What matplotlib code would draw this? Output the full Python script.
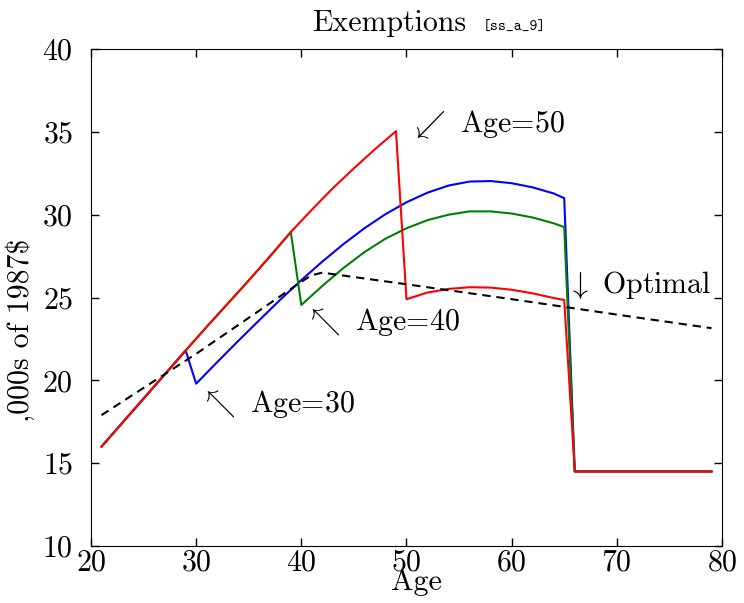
import numpy as np
import matplotlib
matplotlib.use("Agg")
import matplotlib.pyplot as plt

plt.rcParams['font.family'] = 'cmr10'
plt.rcParams['mathtext.fontset'] = 'cm'
plt.rcParams['axes.unicode_minus'] = False
plt.rcParams['axes.formatter.use_mathtext'] = True

# shared path before any drop (age, thousands of 1987$)
base_age = [21, 23, 25, 27, 29, 31, 33, 35, 37, 39, 41, 43, 45, 47, 49]
base_val = [16.0, 17.45, 18.9, 20.35, 21.8, 23.23, 24.63, 26.03, 27.47, 28.95,
            30.3, 31.6, 32.8, 33.95, 35.04]

# after the drop
blue_age = [30, 32, 34, 36, 38, 40, 42, 44, 46, 48, 50, 52, 54, 56, 58, 60, 62, 64, 65, 66, 79]
blue_val = [19.8, 21.1, 22.38, 23.63, 24.87, 26.05, 27.17, 28.22, 29.18, 30.03, 30.75,
            31.33, 31.76, 32.0, 32.03, 31.9, 31.65, 31.28, 31.0, 14.5, 14.5]

green_age = [40, 42, 44, 46, 48, 50, 52, 54, 56, 58, 60, 62, 64, 65, 66, 79]
green_val = [24.55, 25.7, 26.78, 27.74, 28.55, 29.18, 29.67, 30.0, 30.2, 30.2,
             30.07, 29.83, 29.48, 29.25, 14.5, 14.5]

red_age = [50, 52, 54, 56, 58, 60, 62, 64, 65, 66, 79]
red_val = [24.9, 25.3, 25.52, 25.62, 25.6, 25.47, 25.25, 24.97, 24.85, 14.5, 14.5]

opt_age = [21, 30, 40, 41, 42, 50, 60, 70, 79]
opt_val = [17.9, 21.6, 25.95, 26.35, 26.5, 25.8, 24.9, 23.97, 23.15]


def series(drop_age, age, val):
    a = [x for x in base_age if x <= drop_age - 1]
    v = base_val[:len(a)]
    return a + age, v + val


def main():
    fig = plt.figure(figsize=(7.44, 6.03), dpi=100)
    ax = fig.add_axes([0.1223, 0.0945, 0.8481, 0.8242])

    for drop, age, val, c in [(30, blue_age, blue_val, 'b'),
                              (40, green_age, green_val, 'g'),
                              (50, red_age, red_val, 'r')]:
        a, v = series(drop, age, val)
        ax.plot(a, v, c, linewidth=1.5)

    ax.plot(opt_age, opt_val, 'k', linewidth=1.5, dashes=(4, 2.8))

    fs = 21.5
    ax.text(30.35, 18.1, r'$\nwarrow$ Age=30', fontsize=fs)
    ax.text(40.35, 23.05, r'$\nwarrow$ Age=40', fontsize=fs)
    ax.text(50.35, 34.95, r'$\swarrow$ Age=50', fontsize=fs)
    ax.text(65.25, 25.25, r'$\downarrow$ Optimal', fontsize=fs)

    ax.set_xlim(20, 80)
    ax.set_ylim(10, 40)
    ax.set_xticks(range(20, 81, 10))
    ax.set_yticks(range(10, 41, 5))
    ax.tick_params(direction='in', top=True, right=True, length=6, width=1,
                   labelsize=fs)
    ax.tick_params(axis='x', pad=2)
    ax.tick_params(axis='y', pad=13)

    ax.set_xlabel('Age', fontsize=fs)
    ax.xaxis.set_label_coords(0.515, -0.045)
    ax.set_ylabel(',000s of 1987$', fontsize=fs)
    ax.yaxis.set_label_coords(-0.088, 0.435)

    fig.text(312 / 744, 1 - 31 / 603, 'Exemptions', fontsize=fs, va='baseline')
    fig.text(483 / 744, 1 - 31 / 603, '[ss_a_9]', fontsize=10.8,
             family='cmtt10', va='baseline')

    fig.savefig('out.png', dpi=100)


if __name__ == '__main__':
    main()
